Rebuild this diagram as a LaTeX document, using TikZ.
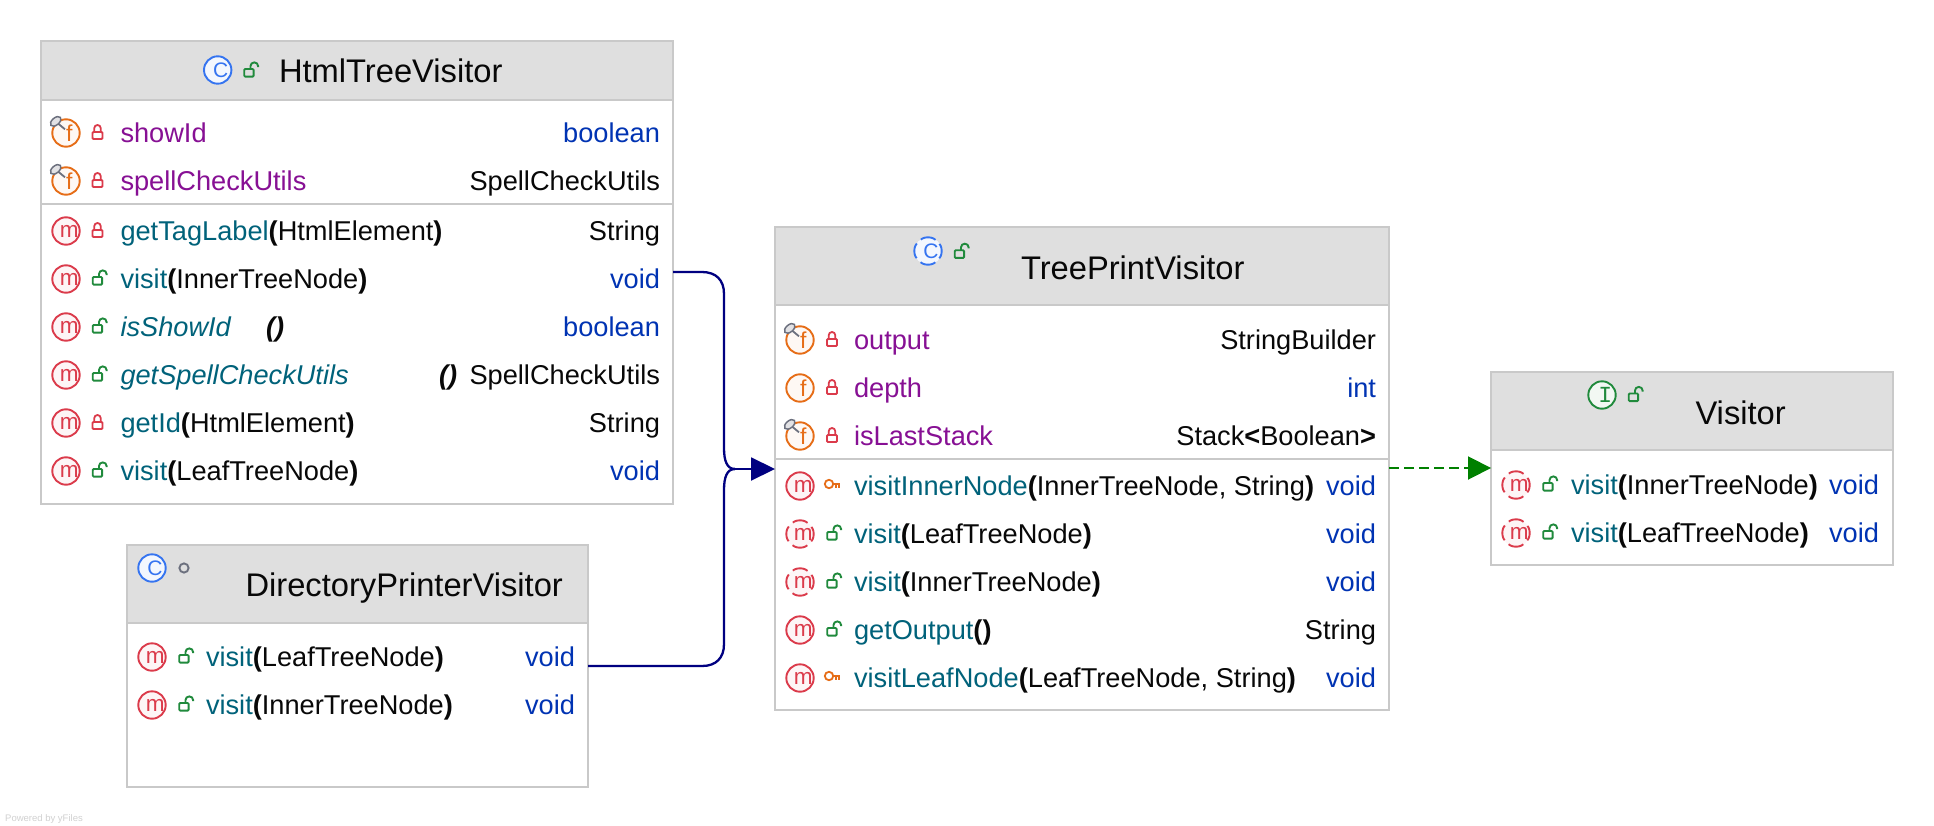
\documentclass[tikz,border=0pt]{standalone}
\usepackage{fontspec}
\setmainfont{Liberation Sans}
\newfontfamily\monof{Liberation Mono}
\usetikzlibrary{arrows.meta}
\definecolor{bordergray}{HTML}{C9C9C9}
\definecolor{headgray}{HTML}{DFDFDF}
\definecolor{fldpurple}{HTML}{871094}
\definecolor{mthteal}{HTML}{00627A}
\definecolor{typblue}{HTML}{0033B3}
\definecolor{txtblack}{HTML}{080808}
\definecolor{mred}{HTML}{DB3B4B}
\definecolor{forange}{HTML}{E66D17}
\definecolor{cblue}{HTML}{3574F0}
\definecolor{igreen}{HTML}{208A3C}
\definecolor{pingray}{HTML}{6C707E}
\definecolor{navyline}{HTML}{000080}
\definecolor{greenline}{HTML}{008000}
\newcounter{nid}
\newcommand{\FldN}[1]{\textcolor{fldpurple}{#1}}
\newcommand{\MthN}[1]{\textcolor{mthteal}{#1}}
\newcommand{\TypB}[1]{\textcolor{typblue}{#1}}
\newcommand{\PB}[1]{\textbf{#1}}
\newcommand{\RowL}[2]{\stepcounter{nid}\node[rowtext,anchor=base west] (n\arabic{nid}) at (\tx,#1+9.7) {#2};}
\newcommand{\RowR}[2]{\stepcounter{nid}\node[rowtext,anchor=base east] (n\arabic{nid}) at (\rx,#1+9.7) {#2};}
\newcommand{\AtX}[3]{\stepcounter{nid}\node[rowtext,anchor=base west] (n\arabic{nid}) at (#1,#2+9.7) {#3};}
\newcommand{\Title}[3]{\stepcounter{nid}\node[titletext,anchor=base west] (n\arabic{nid}) at (#1,#2+1) {#3};}
% icon letter in a circle: x y edge fill letter font
\newcommand{\IconC}[6]{%
  \fill[#4] (#1,#2) circle (13.7);
  \draw[#3,line width=1.9pt] (#1,#2) circle (13.7);
  \stepcounter{nid}\node[iconletter,text=#3] (n\arabic{nid}) at (#1,#2) {#6 #5};}
% same, with a broken ring
\newcommand{\IconD}[6]{%
  \fill[#4] (#1,#2) circle (13.7);
  \draw[#3,line width=1.9pt,dash pattern=on 15.8pt off 5.72pt,dash phase=7.9pt] (#1,#2) circle (13.7);
  \stepcounter{nid}\node[iconletter,text=#3] (n\arabic{nid}) at (#1,#2) {#6 #5};}
\newcommand{\Mreg}[1]{\IconC{\ix}{#1}{mred}{mred!5}{m}{\fontsize{22.5}{23}\selectfont}}
\newcommand{\Mabs}[1]{\IconD{\ix}{#1}{mred}{mred!5}{m}{\fontsize{22.5}{23}\selectfont}}
\newcommand{\Freg}[1]{\IconC{\ix}{#1}{forange}{forange!5}{f}{\fontsize{23}{23}\selectfont}}
\newcommand{\Ffin}[1]{\Freg{#1}%
  \draw[pingray,line width=1.8pt] (\ix-1,#1-3.7) -- (\ix-8,#1-9.5);
  \draw[pingray,fill=pingray!20,line width=1.5pt,rotate around={40:(\ix-10.3,#1-11.6)}] (\ix-10.3,#1-11.6) ellipse (6.2 and 3.6);}
\newcommand{\LockC}[1]{\begin{scope}[shift={(\lx,#1)}]
  \draw[mred,line width=1.8pt,rounded corners=1pt] (-5,-1) rectangle (5,6);
  \draw[mred,line width=1.8pt] (-3.3,-1) -- (-3.3,-4.7) arc[start angle=180,end angle=0,x radius=3.3,y radius=-3.3] -- (3.3,-1);
  \end{scope}}
\newcommand{\LockO}[1]{\begin{scope}[shift={(\lx,#1)}]
  \draw[igreen,line width=1.9pt,rounded corners=1pt] (-4.8,-2) rectangle (4.6,5.6);
  \draw[igreen,line width=1.9pt] (1.5,-2) -- (1.5,-5) arc[start angle=180,end angle=0,x radius=3.8,y radius=-3.6] -- (9.1,-3.8);
  \end{scope}}
\newcommand{\KeyI}[1]{\begin{scope}[shift={(\lx,#1)}]
  \draw[forange,line width=1.8pt] (-3,-2) circle (4.2);
  \draw[forange,line width=1.8pt] (1.2,-2) -- (8,-2) (4,-2) -- (4,2) (7.2,-2) -- (7.2,2);
  \end{scope}}
\tikzset{
  x=1pt,y=-1pt,
  rowtext/.style={inner sep=0pt,outer sep=0pt,font=\fontsize{27.2}{27}\selectfont,text=txtblack},
  titletext/.style={inner sep=0pt,outer sep=0pt,font=\fontsize{32.7}{33}\selectfont,text=txtblack},
  iconletter/.style={inner sep=0pt,outer sep=0pt},
  umlbox/.style={rectangle,draw=bordergray,line width=1.5pt,fill=white,inner sep=0pt,outer sep=0pt,anchor=north west},
  umlhead/.style={rectangle,draw=bordergray,line width=1.5pt,fill=headgray,inner sep=0pt,outer sep=0pt,anchor=north west},
  seprule/.style={bordergray,line width=2pt},
  inherit/.style={navyline,line width=2.3pt},
  realize/.style={greenline,line width=2.2pt,dash pattern=on 10pt off 5pt},
  navyhead/.style={-{Triangle[length=24pt,width=23.5pt,line width=0pt]}},
  greenhead/.style={-{Triangle[length=23pt,width=23.5pt,line width=0pt]}},
}
\begin{document}
\begin{tikzpicture}
\useasboundingbox (0,0) rectangle (1934,826);
\fill[white] (0,0) rectangle (1934,826);

% ---------- HtmlTreeVisitor
\node[umlbox,minimum width=632pt,minimum height=463pt] (html) at (41,41) {};
\node[umlhead,minimum width=632pt,minimum height=59pt] (htmlhead) at (41,41) {};
\draw[seprule] (html.west |- 0,204) -- (html.east |- 0,204);
\IconC{217.7}{70}{cblue}{cblue!6}{C}{\fontsize{21}{21}\selectfont}
\def\lx{249}\LockO{71}
\Title{279}{81.7}{HtmlTreeVisitor}
\def\ix{66}\def\lx{97.5}\def\tx{120.5}\def\rx{660}
\Ffin{133}\LockC{133}\RowL{133}{\FldN{showId}}\RowR{133}{\TypB{boolean}}
\Ffin{181}\LockC{181}\RowL{181}{\FldN{spellCheckUtils}}\RowR{181}{SpellCheckUtils}
\Mreg{231}\LockC{231}\RowL{231}{\MthN{getTagLabel}\PB{(}HtmlElement\PB{)}}\RowR{231}{String}
\Mreg{279}\LockO{279}\RowL{279}{\MthN{visit}\PB{(}InnerTreeNode\PB{)}}\RowR{279}{\TypB{void}}
\Mreg{327}\LockO{327}\RowL{327}{\MthN{\itshape isShowId}}\AtX{266}{327}{\bfseries\itshape ()}\RowR{327}{\TypB{boolean}}
\Mreg{375}\LockO{375}\RowL{375}{\MthN{\itshape getSpellCheckUtils}}\AtX{439}{375}{\bfseries\itshape ()}\RowR{375}{SpellCheckUtils}
\Mreg{423}\LockC{423}\RowL{423}{\MthN{getId}\PB{(}HtmlElement\PB{)}}\RowR{423}{String}
\Mreg{471}\LockO{471}\RowL{471}{\MthN{visit}\PB{(}LeafTreeNode\PB{)}}\RowR{471}{\TypB{void}}

% ---------- DirectoryPrinterVisitor
\node[umlbox,minimum width=461pt,minimum height=242pt] (dir) at (127,545) {};
\node[umlhead,minimum width=461pt,minimum height=78pt] (dirhead) at (127,545) {};
\IconC{152}{568}{cblue}{cblue!6}{C}{\fontsize{21}{21}\selectfont}
\draw[pingray,line width=1.9pt] (184,568) circle (4.6);
\Title{245.5}{595.7}{DirectoryPrinterVisitor}
\def\ix{152}\def\lx{184}\def\tx{206}\def\rx{575}
\Mreg{657}\LockO{657}\RowL{657}{\MthN{visit}\PB{(}LeafTreeNode\PB{)}}\RowR{657}{\TypB{void}}
\Mreg{705}\LockO{705}\RowL{705}{\MthN{visit}\PB{(}InnerTreeNode\PB{)}}\RowR{705}{\TypB{void}}

% ---------- TreePrintVisitor
\node[umlbox,minimum width=614pt,minimum height=483pt] (tree) at (775,227) {};
\node[umlhead,minimum width=614pt,minimum height=78pt] (treehead) at (775,227) {};
\draw[seprule] (tree.west |- 0,459) -- (tree.east |- 0,459);
\IconD{928}{251}{cblue}{cblue!6}{C}{\fontsize{21}{21}\selectfont}
\def\lx{959.5}\LockO{252.3}
\Title{1021}{278}{TreePrintVisitor}
\def\ix{800}\def\lx{832}\def\tx{854}\def\rx{1376}
\Ffin{340}\LockC{340}\RowL{340}{\FldN{output}}\RowR{340}{StringBuilder}
\Freg{388}\LockC{388}\RowL{388}{\FldN{depth}}\RowR{388}{\TypB{int}}
\Ffin{436}\LockC{436}\RowL{436}{\FldN{isLastStack}}\RowR{436}{Stack\PB{<}Boolean\PB{>}}
\Mreg{486}\KeyI{486}\RowL{486}{\MthN{visitInnerNode}\PB{(}InnerTreeNode, String\PB{)}}\RowR{486}{\TypB{void}}
\Mabs{534}\LockO{534}\RowL{534}{\MthN{visit}\PB{(}LeafTreeNode\PB{)}}\RowR{534}{\TypB{void}}
\Mabs{582}\LockO{582}\RowL{582}{\MthN{visit}\PB{(}InnerTreeNode\PB{)}}\RowR{582}{\TypB{void}}
\Mreg{630}\LockO{630}\RowL{630}{\MthN{getOutput}\PB{()}}\RowR{630}{String}
\Mreg{678}\KeyI{678}\RowL{678}{\MthN{visitLeafNode}\PB{(}LeafTreeNode, String\PB{)}}\RowR{678}{\TypB{void}}

% ---------- Visitor
\node[umlbox,minimum width=402pt,minimum height=193pt] (vis) at (1491,372) {};
\node[umlhead,minimum width=402pt,minimum height=78pt] (vishead) at (1491,372) {};
\IconC{1602}{395}{igreen}{igreen!6}{\monof I}{\fontsize{23}{23}\selectfont}
\def\lx{1633.5}\LockO{395.5}
\Title{1695.5}{423}{Visitor}
\def\ix{1516}\def\lx{1548}\def\tx{1571}\def\rx{1879}
\Mabs{485}\LockO{485}\RowL{485}{\MthN{visit}\PB{(}InnerTreeNode\PB{)}}\RowR{485}{\TypB{void}}
\Mabs{533}\LockO{533}\RowL{533}{\MthN{visit}\PB{(}LeafTreeNode\PB{)}}\RowR{533}{\TypB{void}}

% ---------- connectors
\coordinate (ya) at (0,272);
\coordinate (yb) at (0,666);
\coordinate (yj) at (0,469);
\coordinate (yd) at (0,468);
\coordinate (joint) at (735,469);
\draw[inherit] (html.east |- ya) -- (702,272) .. controls (716,272) and (724,280) .. (724,294) -- (724,448) .. controls (724,461) and (727,469) .. (joint);
\draw[inherit] (dir.east |- yb) -- (702,666) .. controls (716,666) and (724,658) .. (724,644) -- (724,490) .. controls (724,477) and (727,469) .. (joint);
\draw[inherit,navyhead] (joint) -- (tree.west |- yj);
\draw[realize] (tree.east |- yd) -- (1468,468);
\draw[greenline,line width=2pt,greenhead] (1466,468) -- (vis.west |- yd);

\node[inner sep=0pt,anchor=base west,text=black!18,font=\fontsize{9.5}{9.5}\selectfont] (powered) at (5,821) {Powered by yFiles};
\end{tikzpicture}
\end{document}
